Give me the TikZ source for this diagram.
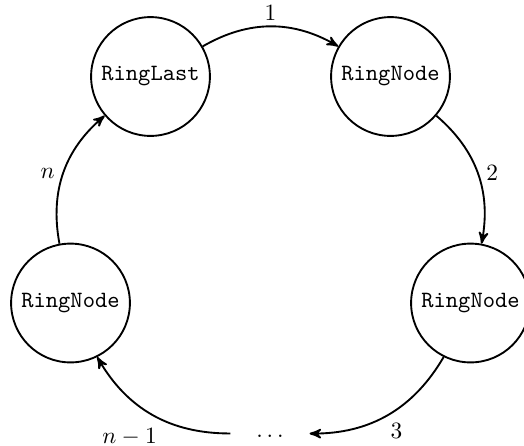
\documentclass[tikz,border=0pt]{standalone}
\usetikzlibrary{arrows}
\begin{document}
\begin{tikzpicture}[x=0.428pt,y=-0.428pt,
  ring/.style={circle,draw,thick,font=\ttfamily},
  link/.style={->,>=stealth',thick,bend left=30}]
\useasboundingbox (0,0) rectangle (524,445);
\node[ring] (last) at (150.5,76.5) {RingLast};
\node[ring] (n1) at (390.5,76.5) {RingNode};
\node[ring] (n2) at (470.5,303) {RingNode};
\node[ring] (n3) at (70.5,303) {RingNode};
\node[inner xsep=10.9pt] (dots) at (270,436) {$\dots$};
\draw[link] (last) to node[above,inner sep=2pt] {$1$} (n1);
\draw[link] (n1) to node[right] {$2$} (n2);
\draw[link] (n2) to node[anchor=north west,xshift=-2.5pt] {$3$} (dots);
\draw[link] (dots) to node[anchor=north east,xshift=5.5pt,yshift=-2.1pt] {$n-1$} (n3);
\draw[link] (n3) to node[left] {$n$} (last);
\end{tikzpicture}
\end{document}
